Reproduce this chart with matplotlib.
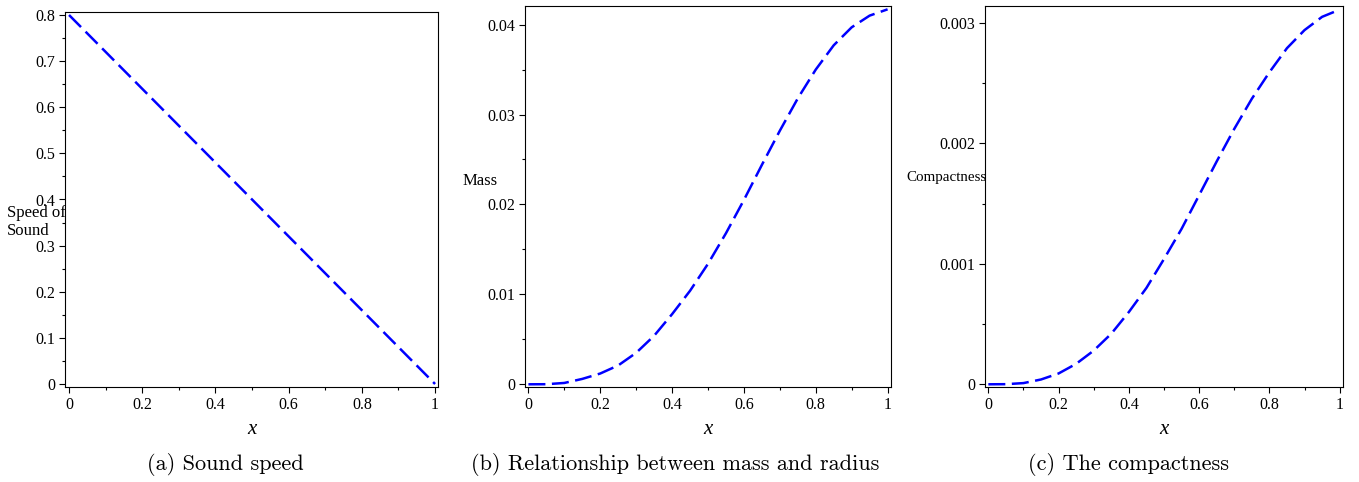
import matplotlib
matplotlib.use('Agg')
import matplotlib.pyplot as plt
from matplotlib.ticker import MultipleLocator, FuncFormatter

# radial coordinate
x_vals = [0.0, 0.05, 0.10, 0.15, 0.20, 0.25, 0.30, 0.35, 0.40, 0.45, 0.50,
          0.55, 0.60, 0.65, 0.70, 0.75, 0.80, 0.85, 0.90, 0.95, 1.0]

# (a) speed of sound
sound_x = [0.0, 1.0]
sound_speed = [0.8, 0.0]

# (b) mass
mass = [0.0, 0.00001, 0.00015, 0.0006, 0.0012, 0.0021, 0.0035, 0.0054, 0.0078,
        0.0104, 0.0134, 0.0168, 0.0205, 0.0244, 0.0282, 0.0318, 0.0350,
        0.0377, 0.0397, 0.0410, 0.0417]

# (c) compactness
compactness = [0.0, 0.000001, 0.00001, 0.00004, 0.00009, 0.00017, 0.00028,
               0.00042, 0.00060, 0.00080, 0.00104, 0.00129, 0.00157, 0.00185,
               0.00212, 0.00237, 0.00259, 0.00279, 0.00294, 0.00305, 0.00311]

captions = ['(a) Sound speed', '(b) Relationship between mass and radius',
            '(c) The compactness']

W, H = 1359, 482
fig = plt.figure(figsize=(W / 100, H / 100), dpi=100)


def px_axes(left, top, right, bottom):
    return fig.add_axes([left / W, 1 - bottom / H, (right - left) / W, (bottom - top) / H])


def fmt(v, pos):
    return '%g' % round(v, 6)


def style(ax, xlim, ylim, ymajor, yminor):
    ax.set_xlim(*xlim)
    ax.set_ylim(*ylim)
    ax.xaxis.set_major_locator(MultipleLocator(0.2))
    ax.xaxis.set_minor_locator(MultipleLocator(0.1))
    ax.yaxis.set_major_locator(MultipleLocator(ymajor))
    ax.yaxis.set_minor_locator(MultipleLocator(yminor))
    ax.xaxis.set_major_formatter(FuncFormatter(fmt))
    ax.yaxis.set_major_formatter(FuncFormatter(fmt))
    ax.tick_params(which='major', direction='out', length=4, width=0.8,
                   labelsize=11.5, pad=3, top=False, right=False)
    ax.tick_params(which='minor', direction='out', length=2.5, width=0.8,
                   top=False, right=False)
    for lab in ax.get_xticklabels() + ax.get_yticklabels():
        lab.set_fontfamily('Liberation Serif')
    for sp in ax.spines.values():
        sp.set_linewidth(0.8)
    ax.set_xlabel('x', fontfamily='Liberation Serif', fontstyle='italic',
                  fontsize=15, labelpad=5)


line_kw = dict(color='#0000ff', lw=1.8, dashes=(6.8, 2.6))

ax1 = px_axes(65, 12, 438, 387)
ax1.plot(sound_x, sound_speed, **line_kw)
style(ax1, (-0.011, 1.008), (-0.0065, 0.8065), 0.1, 0.05)

ax2 = px_axes(525, 6, 891, 387)
ax2.plot(x_vals, mass, **line_kw)
style(ax2, (-0.0095, 1.0095), (-0.0003, 0.04207), 0.01, 0.005)

ax3 = px_axes(985, 6, 1343, 387)
ax3.plot(x_vals, compactness, **line_kw)
style(ax3, (-0.0095, 1.0095), (-0.0000224, 0.00314), 0.001, 0.0005)

# y labels placed horizontally like the original Maple output
fig.text(7 / W, 1 - 222 / H, 'Speed of\nSound', ha='left', va='center',
         fontsize=12, fontfamily='Liberation Serif', linespacing=1.1)
fig.text(463 / W, 1 - 181 / H, 'Mass', ha='left', va='center',
         fontsize=12, fontfamily='Liberation Serif')
fig.text(906 / W, 1 - 177 / H, 'Compactness', ha='left', va='center',
         fontsize=10.8, fontfamily='Liberation Serif')

for cx, text in zip([225, 675, 1128], captions):
    fig.text(cx / W, 1 - 465 / H, text, ha='center', va='center',
             fontsize=16, fontfamily='cmr10')

fig.savefig('out.png', dpi=100)
